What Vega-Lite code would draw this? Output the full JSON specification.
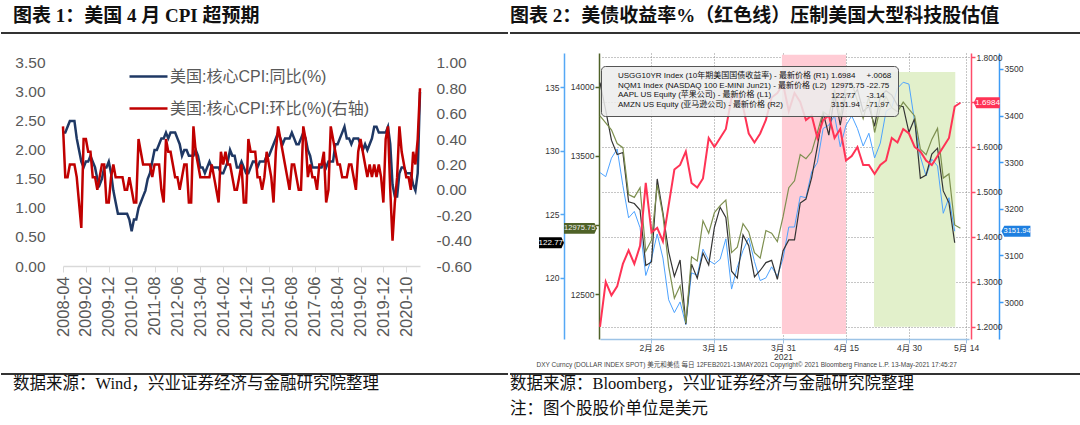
{
"$schema": "https://vega.github.io/schema/vega-lite/v6.json",
"background": "white",
"padding": {"top": 7, "left": 0, "right": 0, "bottom": 0},
"config": {"view": {"stroke": null}, "font": "Liberation Sans, Noto Sans CJK SC", "axis": {"labelFont": "Liberation Sans, Noto Sans CJK SC"}, "legend": {"labelFont": "Liberation Sans, Noto Sans CJK SC"}},
"spacing": 19,
"columns": 1,
"concat": [
{"spacing": 0, "hconcat": [
 {"width": 445, "height": 1,
  "title": {"text": "图表 1：美国 4 月 CPI 超预期", "anchor": "start", "frame": "group", "dx": -50, "font": "Liberation Serif, Noto Sans CJK SC", "fontSize": 19, "fontWeight": "bold", "color": "#111", "offset": 6},
  "data": {"values": [{"v": 0}]}, "mark": {"type": "rule", "color": "#333", "strokeWidth": 2, "clip": false},
  "encoding": {"x": {"datum": -0.1393, "type": "quantitative", "scale": {"domain": [0, 1]}, "axis": null}, "x2": {"datum": 1}, "y": {"datum": 0, "type": "quantitative", "scale": {"domain": [0, 1]}, "axis": null}}},
 {"width": 573, "height": 1,
  "title": {"text": "图表 2：美债收益率%（红色线）压制美国大型科技股估值", "anchor": "start", "frame": "group", "dx": 0, "font": "Liberation Serif, Noto Sans CJK SC", "fontSize": 19, "fontWeight": "bold", "color": "#111", "offset": 6},
  "data": {"values": [{"v": 0}]}, "mark": {"type": "rule", "color": "#333", "strokeWidth": 2, "clip": false},
  "encoding": {"x": {"datum": 0, "type": "quantitative", "scale": {"domain": [0, 1]}, "axis": null}, "x2": {"datum": 1}, "y": {"datum": 0, "type": "quantitative", "scale": {"domain": [0, 1]}, "axis": null}}}
]},
{"spacing": 5, "columns": 1, "concat": [
{"spacing": 64,
 "resolve": {"scale": {"color": "independent"}, "legend": {"color": "independent"}},
 "hconcat": [
 {"width": 357, "height": 213,
  "data": {"values": [
{"m":"2008-04","yoy":2.3,"mom":0.5},{"m":"2008-05","yoy":2.3,"mom":0.1},{"m":"2008-06","yoy":2.4,"mom":0.1},{"m":"2008-07","yoy":2.5,"mom":0.2},{"m":"2008-08","yoy":2.5,"mom":0.2},{"m":"2008-09","yoy":2.5,"mom":0.2},{"m":"2008-10","yoy":2.2,"mom":0.1},{"m":"2008-11","yoy":2.0,"mom":-0.1},{"m":"2008-12","yoy":1.8,"mom":-0.3},
{"m":"2009-01","yoy":1.7,"mom":0.4},{"m":"2009-02","yoy":1.8,"mom":0.4},{"m":"2009-03","yoy":1.8,"mom":0.3},{"m":"2009-04","yoy":1.9,"mom":0.3},{"m":"2009-05","yoy":1.8,"mom":0.1},{"m":"2009-06","yoy":1.7,"mom":0.1},{"m":"2009-07","yoy":1.5,"mom":0.0},{"m":"2009-08","yoy":1.4,"mom":0.1},{"m":"2009-09","yoy":1.5,"mom":0.2},{"m":"2009-10","yoy":1.7,"mom":0.2},{"m":"2009-11","yoy":1.7,"mom":-0.1},{"m":"2009-12","yoy":1.8,"mom":-0.1},
{"m":"2010-01","yoy":1.6,"mom":0.1},{"m":"2010-02","yoy":1.3,"mom":0.2},{"m":"2010-03","yoy":1.1,"mom":0.1},{"m":"2010-04","yoy":0.9,"mom":0.1},{"m":"2010-05","yoy":0.9,"mom":0.1},{"m":"2010-06","yoy":0.9,"mom":0.1},{"m":"2010-07","yoy":0.9,"mom":0.0},{"m":"2010-08","yoy":0.9,"mom":0.0},{"m":"2010-09","yoy":0.8,"mom":0.1},{"m":"2010-10","yoy":0.6,"mom":0.0},{"m":"2010-11","yoy":0.8,"mom":-0.1},{"m":"2010-12","yoy":0.8,"mom":-0.1},
{"m":"2011-01","yoy":1.0,"mom":0.4},{"m":"2011-02","yoy":1.1,"mom":0.3},{"m":"2011-03","yoy":1.2,"mom":0.2},{"m":"2011-04","yoy":1.3,"mom":0.2},{"m":"2011-05","yoy":1.5,"mom":0.2},{"m":"2011-06","yoy":1.6,"mom":0.2},{"m":"2011-07","yoy":1.8,"mom":0.1},{"m":"2011-08","yoy":2.0,"mom":0.2},{"m":"2011-09","yoy":2.0,"mom":0.2},{"m":"2011-10","yoy":2.1,"mom":0.2},{"m":"2011-11","yoy":2.2,"mom":0.0},{"m":"2011-12","yoy":2.2,"mom":-0.1},
{"m":"2012-01","yoy":2.3,"mom":0.4},{"m":"2012-02","yoy":2.2,"mom":0.3},{"m":"2012-03","yoy":2.3,"mom":0.3},{"m":"2012-04","yoy":2.3,"mom":0.2},{"m":"2012-05","yoy":2.3,"mom":0.1},{"m":"2012-06","yoy":2.2,"mom":0.1},{"m":"2012-07","yoy":2.1,"mom":0.0},{"m":"2012-08","yoy":1.9,"mom":0.1},{"m":"2012-09","yoy":2.0,"mom":0.2},{"m":"2012-10","yoy":2.0,"mom":0.2},{"m":"2012-11","yoy":1.9,"mom":-0.1},{"m":"2012-12","yoy":1.9,"mom":-0.1},
{"m":"2013-01","yoy":1.9,"mom":0.5},{"m":"2013-02","yoy":2.0,"mom":0.3},{"m":"2013-03","yoy":1.9,"mom":0.2},{"m":"2013-04","yoy":1.7,"mom":0.1},{"m":"2013-05","yoy":1.7,"mom":0.1},{"m":"2013-06","yoy":1.6,"mom":0.1},{"m":"2013-07","yoy":1.7,"mom":0.1},{"m":"2013-08","yoy":1.8,"mom":0.1},{"m":"2013-09","yoy":1.7,"mom":0.2},{"m":"2013-10","yoy":1.7,"mom":0.1},{"m":"2013-11","yoy":1.7,"mom":0.0},{"m":"2013-12","yoy":1.7,"mom":-0.1},
{"m":"2014-01","yoy":1.6,"mom":0.3},{"m":"2014-02","yoy":1.6,"mom":0.2},{"m":"2014-03","yoy":1.7,"mom":0.3},{"m":"2014-04","yoy":1.8,"mom":0.2},{"m":"2014-05","yoy":2.0,"mom":0.2},{"m":"2014-06","yoy":1.9,"mom":0.1},{"m":"2014-07","yoy":1.9,"mom":0.0},{"m":"2014-08","yoy":1.7,"mom":0.0},{"m":"2014-09","yoy":1.7,"mom":0.1},{"m":"2014-10","yoy":1.8,"mom":0.2},{"m":"2014-11","yoy":1.7,"mom":-0.1},{"m":"2014-12","yoy":1.6,"mom":-0.1},
{"m":"2015-01","yoy":1.6,"mom":0.4},{"m":"2015-02","yoy":1.7,"mom":0.3},{"m":"2015-03","yoy":1.8,"mom":0.3},{"m":"2015-04","yoy":1.8,"mom":0.3},{"m":"2015-05","yoy":1.7,"mom":0.1},{"m":"2015-06","yoy":1.8,"mom":0.1},{"m":"2015-07","yoy":1.8,"mom":0.0},{"m":"2015-08","yoy":1.8,"mom":0.1},{"m":"2015-09","yoy":1.9,"mom":0.3},{"m":"2015-10","yoy":1.9,"mom":0.2},{"m":"2015-11","yoy":2.0,"mom":0.1},{"m":"2015-12","yoy":2.1,"mom":-0.1},
{"m":"2016-01","yoy":2.2,"mom":0.3},{"m":"2016-02","yoy":2.3,"mom":0.5},{"m":"2016-03","yoy":2.2,"mom":0.4},{"m":"2016-04","yoy":2.1,"mom":0.3},{"m":"2016-05","yoy":2.2,"mom":0.2},{"m":"2016-06","yoy":2.2,"mom":0.1},{"m":"2016-07","yoy":2.2,"mom":0.0},{"m":"2016-08","yoy":2.3,"mom":0.2},{"m":"2016-09","yoy":2.2,"mom":0.2},{"m":"2016-10","yoy":2.1,"mom":0.1},{"m":"2016-11","yoy":2.1,"mom":0.0},{"m":"2016-12","yoy":2.2,"mom":0.0},
{"m":"2017-01","yoy":2.3,"mom":0.5},{"m":"2017-02","yoy":2.2,"mom":0.4},{"m":"2017-03","yoy":2.0,"mom":0.1},{"m":"2017-04","yoy":1.9,"mom":0.2},{"m":"2017-05","yoy":1.7,"mom":0.1},{"m":"2017-06","yoy":1.7,"mom":0.1},{"m":"2017-07","yoy":1.7,"mom":0.0},{"m":"2017-08","yoy":1.7,"mom":0.2},{"m":"2017-09","yoy":1.7,"mom":0.2},{"m":"2017-10","yoy":1.8,"mom":0.3},{"m":"2017-11","yoy":1.7,"mom":-0.1},{"m":"2017-12","yoy":1.8,"mom":0.0},
{"m":"2018-01","yoy":1.8,"mom":0.5},{"m":"2018-02","yoy":1.8,"mom":0.4},{"m":"2018-03","yoy":2.1,"mom":0.3},{"m":"2018-04","yoy":2.1,"mom":0.2},{"m":"2018-05","yoy":2.2,"mom":0.2},{"m":"2018-06","yoy":2.3,"mom":0.1},{"m":"2018-07","yoy":2.4,"mom":0.1},{"m":"2018-08","yoy":2.2,"mom":0.1},{"m":"2018-09","yoy":2.2,"mom":0.2},{"m":"2018-10","yoy":2.1,"mom":0.2},{"m":"2018-11","yoy":2.2,"mom":0.1},{"m":"2018-12","yoy":2.2,"mom":0.0},
{"m":"2019-01","yoy":2.2,"mom":0.3},{"m":"2019-02","yoy":2.1,"mom":0.4},{"m":"2019-03","yoy":2.0,"mom":0.3},{"m":"2019-04","yoy":2.1,"mom":0.2},{"m":"2019-05","yoy":2.0,"mom":0.1},{"m":"2019-06","yoy":2.1,"mom":0.2},{"m":"2019-07","yoy":2.2,"mom":0.1},{"m":"2019-08","yoy":2.4,"mom":0.2},{"m":"2019-09","yoy":2.4,"mom":0.1},{"m":"2019-10","yoy":2.3,"mom":0.2},{"m":"2019-11","yoy":2.3,"mom":0.1},{"m":"2019-12","yoy":2.3,"mom":-0.1},
{"m":"2020-01","yoy":2.3,"mom":0.4},{"m":"2020-02","yoy":2.4,"mom":0.5},{"m":"2020-03","yoy":2.1,"mom":0.0},{"m":"2020-04","yoy":1.4,"mom":-0.4},{"m":"2020-05","yoy":1.2,"mom":-0.1},{"m":"2020-06","yoy":1.2,"mom":0.1},{"m":"2020-07","yoy":1.6,"mom":0.5},{"m":"2020-08","yoy":1.7,"mom":0.3},{"m":"2020-09","yoy":1.7,"mom":0.2},{"m":"2020-10","yoy":1.6,"mom":0.1},{"m":"2020-11","yoy":1.6,"mom":0.1},{"m":"2020-12","yoy":1.6,"mom":0.0},
{"m":"2021-01","yoy":1.4,"mom":0.3},{"m":"2021-02","yoy":1.3,"mom":0.2},{"m":"2021-03","yoy":1.6,"mom":0.4},{"m":"2021-04","yoy":3.0,"mom":0.8}
  ]},
  "layer": [
   {"mark": {"type": "line", "strokeWidth": 2.5},
    "encoding": {
     "x": {"field": "m", "type": "ordinal", "scale": {"type": "point", "padding": 0},
       "axis": {"values": ["2008-04","2009-02","2009-12","2010-10","2011-08","2012-06","2013-04","2014-02","2014-12","2015-10","2016-08","2017-06","2018-04","2019-02","2019-12","2020-10"], "labelAngle": -90, "labelFontSize": 16.5, "labelColor": "#595959", "domainColor": "#D9D9D9", "domainWidth": 1.5, "tickColor": "#D9D9D9", "tickSize": 6, "labelPadding": 4, "title": null, "grid": false}},
     "y": {"field": "yoy", "type": "quantitative", "scale": {"domain": [0, 3.672], "nice": false, "zero": false},
       "axis": {"orient": "left", "values": [0,0.5,1,1.5,2,2.5,3,3.5], "format": ".2f", "labelFontSize": 15.5, "labelColor": "#595959", "domain": false, "ticks": false, "grid": false, "labelPadding": 18, "title": "|", "titleOpacity": 0, "titleFontSize": 2, "titlePadding": 11}},
     "color": {"datum": "美国:核心CPI:同比(%)", "type": "nominal",
       "scale": {"domain": ["美国:核心CPI:同比(%)", "美国:核心CPI:环比(%)(右轴)"], "range": ["#1F3864", "#C00000"]},
       "legend": {"orient": "none", "legendX": 65, "legendY": 3, "title": null, "symbolType": "stroke", "symbolStrokeWidth": 2.5, "symbolSize": 1444, "labelFontSize": 16, "labelColor": "#595959", "rowPadding": 3, "labelOffset": 1, "padding": 0, "labelLimit": 400}}
    }},
   {"mark": {"type": "line", "strokeWidth": 2.5},
    "encoding": {
     "x": {"field": "m", "type": "ordinal"},
     "y": {"field": "mom", "type": "quantitative", "scale": {"domain": [-0.6, 1.078], "nice": false, "zero": false},
       "axis": {"orient": "right", "values": [-0.6,-0.4,-0.2,0,0.2,0.4,0.6,0.8,1.0], "labelExpr": "replace(format(datum.value, '.2f'), '\u2212', '-')", "labelFontSize": 15.5, "labelColor": "#595959", "domain": false, "ticks": false, "grid": false, "labelPadding": 16, "title": null}},
     "color": {"datum": "美国:核心CPI:环比(%)(右轴)", "type": "nominal"}
    }}
  ],
  "resolve": {"scale": {"y": "independent"}}
 },
 {"width": 369, "height": 286,
  "data": {"values": [
{"i":0,"y10":1.20,"nq":13790,"aapl":135.37,"amzn":3277.71},{"i":1,"y10":1.30,"nq":13740,"aapl":133.19,"amzn":3268.95},{"i":2,"y10":1.27,"nq":13690,"aapl":130.84,"amzn":3308.64},{"i":3,"y10":1.29,"nq":13590,"aapl":129.71,"amzn":3328.23},{"i":4,"y10":1.34,"nq":13560,"aapl":129.87,"amzn":3249.90},{"i":5,"y10":1.37,"nq":13220,"aapl":126.00,"amzn":3180.74},{"i":6,"y10":1.34,"nq":13200,"aapl":125.86,"amzn":3194.50},{"i":7,"y10":1.38,"nq":13270,"aapl":125.35,"amzn":3159.53},{"i":8,"y10":1.52,"nq":12810,"aapl":120.99,"amzn":3057.16},{"i":9,"y10":1.41,"nq":12890,"aapl":121.26,"amzn":3092.93},
{"i":10,"y10":1.42,"nq":13290,"aapl":127.79,"amzn":3146.14},{"i":11,"y10":1.39,"nq":13070,"aapl":125.12,"amzn":3094.53},{"i":12,"y10":1.47,"nq":12700,"aapl":122.06,"amzn":3005.00},{"i":13,"y10":1.55,"nq":12470,"aapl":120.13,"amzn":2977.57},{"i":14,"y10":1.56,"nq":12560,"aapl":121.42,"amzn":3000.46},{"i":15,"y10":1.59,"nq":12290,"aapl":116.36,"amzn":2951.95},{"i":16,"y10":1.52,"nq":12770,"aapl":121.09,"amzn":3062.85},{"i":17,"y10":1.51,"nq":12740,"aapl":119.98,"amzn":3057.64},{"i":18,"y10":1.53,"nq":13030,"aapl":121.96,"amzn":3113.59},{"i":19,"y10":1.62,"nq":12940,"aapl":121.03,"amzn":3089.49},
{"i":20,"y10":1.60,"nq":13090,"aapl":123.99,"amzn":3081.68},{"i":21,"y10":1.62,"nq":13140,"aapl":125.57,"amzn":3091.86},{"i":22,"y10":1.64,"nq":13180,"aapl":124.76,"amzn":3135.73},{"i":23,"y10":1.71,"nq":12800,"aapl":120.53,"amzn":3027.99},{"i":24,"y10":1.72,"nq":12840,"aapl":119.99,"amzn":3074.96},{"i":25,"y10":1.69,"nq":13010,"aapl":123.39,"amzn":3110.87},{"i":26,"y10":1.63,"nq":12950,"aapl":122.54,"amzn":3137.50},{"i":27,"y10":1.61,"nq":12800,"aapl":120.09,"amzn":3087.07},{"i":28,"y10":1.63,"nq":12760,"aapl":120.59,"amzn":3046.26},{"i":29,"y10":1.66,"nq":12960,"aapl":121.21,"amzn":3052.03},
{"i":30,"y10":1.71,"nq":12940,"aapl":121.39,"amzn":3075.73},{"i":31,"y10":1.72,"nq":12880,"aapl":119.90,"amzn":3055.29},{"i":32,"y10":1.74,"nq":13060,"aapl":122.15,"amzn":3094.08},{"i":33,"y10":1.68,"nq":13270,"aapl":123.00,"amzn":3161.00},{"i":34,"y10":1.72,"nq":13320,"aapl":123.00,"amzn":3161.00},{"i":35,"y10":1.70,"nq":13510,"aapl":125.90,"amzn":3226.73},{"i":36,"y10":1.66,"nq":13480,"aapl":126.21,"amzn":3223.82},{"i":37,"y10":1.67,"nq":13530,"aapl":127.90,"amzn":3279.39},{"i":38,"y10":1.62,"nq":13670,"aapl":130.36,"amzn":3299.30},{"i":39,"y10":1.66,"nq":13820,"aapl":133.00,"amzn":3372.20},
{"i":40,"y10":1.67,"nq":13790,"aapl":131.24,"amzn":3379.39},{"i":41,"y10":1.62,"nq":13980,"aapl":134.43,"amzn":3400.00},{"i":42,"y10":1.64,"nq":13780,"aapl":132.03,"amzn":3333.00},{"i":43,"y10":1.57,"nq":14020,"aapl":134.50,"amzn":3379.09},{"i":44,"y10":1.58,"nq":14030,"aapl":134.16,"amzn":3399.44},{"i":45,"y10":1.60,"nq":13900,"aapl":134.84,"amzn":3372.01},{"i":46,"y10":1.56,"nq":13770,"aapl":133.11,"amzn":3334.69},{"i":47,"y10":1.56,"nq":13930,"aapl":133.50,"amzn":3362.02},{"i":48,"y10":1.54,"nq":13670,"aapl":131.94,"amzn":3309.04},{"i":49,"y10":1.56,"nq":13850,"aapl":134.32,"amzn":3340.88},
{"i":50,"y10":1.57,"nq":13930,"aapl":134.72,"amzn":3409.00},{"i":51,"y10":1.62,"nq":13850,"aapl":134.39,"amzn":3417.43},{"i":52,"y10":1.61,"nq":13820,"aapl":133.58,"amzn":3458.50},{"i":53,"y10":1.64,"nq":13890,"aapl":133.48,"amzn":3471.31},{"i":54,"y10":1.63,"nq":13840,"aapl":131.46,"amzn":3467.42},{"i":55,"y10":1.60,"nq":13790,"aapl":132.54,"amzn":3386.49},{"i":56,"y10":1.59,"nq":13550,"aapl":127.85,"amzn":3311.87},{"i":57,"y10":1.57,"nq":13510,"aapl":128.10,"amzn":3270.54},{"i":58,"y10":1.56,"nq":13620,"aapl":129.74,"amzn":3306.37},{"i":59,"y10":1.58,"nq":13700,"aapl":130.21,"amzn":3291.61},
{"i":60,"y10":1.60,"nq":13340,"aapl":126.85,"amzn":3190.49},{"i":61,"y10":1.62,"nq":13370,"aapl":125.91,"amzn":3223.91},{"i":62,"y10":1.69,"nq":13000,"aapl":122.77,"amzn":3151.94},{"i":63,"y10":1.6984,"nq":12975.75,"aapl":null,"amzn":null}
  ]},
  "layer": [
   {"layer": [
     {"data": {"values": [{"start": 31.8, "end": 43.0, "top": 1.805, "bottom": 1.184}]},
      "mark": {"type": "rect", "color": "#FFCCD5"},
      "encoding": {
       "x": {"field": "start", "type": "quantitative", "scale": {"domain": [0, 64.5], "nice": false, "zero": false},
         "axis": {"values": [9,20,32,43,54,64], "labelExpr": "datum.value == 9 ? '2月 26' : datum.value == 20 ? '3月 15' : datum.value == 32 ? ['3月 31', '2021'] : datum.value == 43 ? '4月 15' : datum.value == 54 ? '4月 30' : '5月 14'", "labelFontSize": 8.5, "labelColor": "#333", "labelLineHeight": 9.5, "labelPadding": 0, "domainColor": "#9DC3E6", "domainWidth": 1.5, "tickColor": "#9DC3E6", "tickSize": 4, "grid": true, "gridColor": "#8C8C8C", "gridDash": [1, 2], "labelOverlap": false,
           "title": "DXY Curncy (DOLLAR INDEX SPOT) 美元和美债    每日 12FEB2021-13MAY2021            Copyright© 2021 Bloomberg Finance L.P.            13-May-2021 17:45:27", "titleFontSize": 6.5, "titleFontWeight": "normal", "titleColor": "#444", "titleAnchor": "start", "titleAlign": "left", "titleX": -64, "titleY": 22}},
       "x2": {"field": "end"},
       "y": {"field": "top", "type": "quantitative", "scale": {"domain": [1.173, 1.809], "nice": false, "zero": false}, "axis": null},
       "y2": {"field": "bottom"}}},
     {"data": {"values": [{"start": 47.9, "end": 62.1, "top": 1.767, "bottom": 1.2}]},
      "mark": {"type": "rect", "color": "#E2F0CB"},
      "encoding": {"x": {"field": "start", "type": "quantitative"}, "x2": {"field": "end"}, "y": {"field": "top", "type": "quantitative"}, "y2": {"field": "bottom"}}}
   ]},
   {"layer": [
     {"mark": {"type": "line", "strokeWidth": 1},
      "encoding": {
       "x": {"field": "i", "type": "quantitative"},
       "y": {"field": "amzn", "type": "quantitative", "scale": {"domain": [2921, 3534], "nice": false, "zero": false},
         "axis": {"orient": "right", "offset": 30, "values": [3000,3100,3200,3300,3400,3500], "format": "d", "domainColor": "#3D9BF5", "domainWidth": 1.5, "tickColor": "#3D9BF5", "tickSize": 4, "tickWidth": 1.5, "labelColor": "#333", "labelFontSize": 8.5, "labelPadding": 1, "grid": false, "title": null}},
       "color": {"datum": "AMZN US Equity (亚马逊公司) - 最新价格 (R2)", "type": "nominal",
         "scale": {"domain": ["USGG10YR Index (10年期美国国债收益率) - 最新价格 (R1)", "NQM1 Index (NASDAQ 100 E-MINI Jun21) - 最新价格 (L2)", "AAPL US Equity (苹果公司) - 最新价格 (L1)", "AMZN US Equity (亚马逊公司) - 最新价格 (R2)"], "range": ["#FF3355", "#7D8F4F", "#333333", "#4DA3FF"]},
         "legend": {"orient": "none", "legendX": 1, "legendY": 13, "symbolType": "square", "symbolSize": 49, "symbolStrokeWidth": 0, "labelFontSize": 8, "labelColor": "#111", "rowPadding": 1.5, "padding": 6, "labelOffset": 3, "fillColor": "rgba(236,236,236,0.85)", "strokeColor": "#555", "cornerRadius": 4, "labelLimit": 500,
           "title": ["1.6984\u00a0\u00a0\u00a0\u00a0\u00a0+.0068", "12975.75\u00a0-22.75", "122.77\u00a0\u00a0\u00a0\u00a0\u00a0-3.14", "3151.94\u00a0\u00a0\u00a0-71.97"], "titleOrient": "right", "titleAnchor": "start", "titleBaseline": "top", "titleFont": "Liberation Sans", "titleFontSize": 8, "titleFontWeight": "normal", "titleColor": "#111", "titleLineHeight": 9.8, "titlePadding": 2}}
      }},
     {"data": {"values": [{"last": 3151.94}]},
      "mark": {"type": "point", "shape": "M-1,0L-0.8,-0.38L1,-0.38L1,0.38L-0.8,0.38Z", "filled": true, "opacity": 1, "size": 841, "color": "#1E7FE0", "strokeWidth": 0},
      "encoding": {"x": {"datum": 72.7}, "y": {"field": "last", "type": "quantitative"}}},
     {"data": {"values": [{"last": 3151.94}]},
      "mark": {"type": "text", "color": "white", "fontSize": 7.5, "align": "center", "baseline": "middle"},
      "encoding": {"x": {"datum": 72.9}, "y": {"field": "last", "type": "quantitative"}, "text": {"field": "last", "type": "quantitative", "format": ".2f"}}}
   ]},
   {"layer": [
     {"mark": {"type": "line", "strokeWidth": 1.2},
      "encoding": {
       "x": {"field": "i", "type": "quantitative"},
       "y": {"field": "aapl", "type": "quantitative", "scale": {"domain": [115.2, 137.7], "nice": false, "zero": false},
         "axis": {"orient": "left", "offset": 36, "values": [120,125,130,135], "format": "d", "domainColor": "#55A8F5", "domainWidth": 1.5, "tickColor": "#55A8F5", "tickSize": 4, "tickWidth": 1.5, "labelColor": "#333", "labelFontSize": 8.5, "labelPadding": 1, "grid": false, "title": null}},
       "color": {"datum": "AAPL US Equity (苹果公司) - 最新价格 (L1)", "type": "nominal"}
      }},
     {"data": {"values": [{"last": 122.77}]},
      "mark": {"type": "point", "shape": "M-1,-0.44L0.8,-0.44L1,0L0.8,0.44L-1,0.44Z", "filled": true, "opacity": 1, "size": 625, "color": "#000000", "strokeWidth": 0},
      "encoding": {"x": {"datum": -8.48}, "y": {"field": "last", "type": "quantitative"}}},
     {"data": {"values": [{"last": 122.77}]},
      "mark": {"type": "text", "color": "white", "fontSize": 8, "align": "center", "baseline": "middle"},
      "encoding": {"x": {"datum": -8.6}, "y": {"field": "last", "type": "quantitative"}, "text": {"field": "last", "type": "quantitative", "format": ".2f"}}}
   ]},
   {"layer": [
     {"mark": {"type": "line", "strokeWidth": 1.2},
      "encoding": {
       "x": {"field": "i", "type": "quantitative"},
       "y": {"field": "nq", "type": "quantitative", "scale": {"domain": [12174, 14246], "nice": false, "zero": false},
         "axis": {"orient": "left", "offset": 1, "values": [12500,13000,13500,14000], "labelExpr": "datum.value == 13000 ? '' : format(datum.value, 'd')", "domainColor": "#4F6228", "domainWidth": 1.5, "tickColor": "#4F6228", "tickSize": 4, "tickWidth": 1.5, "labelColor": "#333", "labelFontSize": 8.5, "labelPadding": 1, "grid": false, "title": null}},
       "color": {"datum": "NQM1 Index (NASDAQ 100 E-MINI Jun21) - 最新价格 (L2)", "type": "nominal"}
      }},
     {"data": {"values": [{"last": 12975.75}]},
      "mark": {"type": "point", "shape": "M-1,-0.33L0.85,-0.33L1,0L0.85,0.33L-1,0.33Z", "filled": true, "opacity": 1, "size": 1089, "color": "#4F6228", "strokeWidth": 0},
      "encoding": {"x": {"datum": -3.41}, "y": {"field": "last", "type": "quantitative"}}},
     {"data": {"values": [{"last": 12975.75}]},
      "mark": {"type": "text", "color": "#EEEEEE", "fontSize": 7.5, "align": "center", "baseline": "middle"},
      "encoding": {"x": {"datum": -3.55}, "y": {"field": "last", "type": "quantitative"}, "text": {"field": "last", "type": "quantitative", "format": ".2f"}}}
   ]},
   {"layer": [
     {"mark": {"type": "line", "strokeWidth": 2},
      "encoding": {
       "x": {"field": "i", "type": "quantitative"},
       "y": {"field": "y10", "type": "quantitative", "scale": {"domain": [1.173, 1.809], "nice": false, "zero": false},
         "axis": {"orient": "right", "offset": 2, "values": [1.2,1.3,1.4,1.5,1.6,1.7,1.8], "labelExpr": "datum.value == 1.7 ? '' : format(datum.value, '.4f')", "domainColor": "#FF4D6A", "domainWidth": 1.5, "tickColor": "#FF4D6A", "tickSize": 4, "tickWidth": 1.5, "labelColor": "#333", "labelFontSize": 8.5, "labelPadding": 1, "grid": true, "gridColor": "#8C8C8C", "gridDash": [1, 2], "title": null}},
       "color": {"datum": "USGG10YR Index (10年期美国国债收益率) - 最新价格 (R1)", "type": "nominal"}
      }},
     {"data": {"values": [{"last": 1.6984}]},
      "mark": {"type": "point", "shape": "M-1,0L-0.8,-0.42L1,-0.42L1,0.42L-0.8,0.42Z", "filled": true, "opacity": 1, "size": 676, "color": "#FF3355", "strokeWidth": 0},
      "encoding": {"x": {"datum": 67.6}, "y": {"field": "last", "type": "quantitative"}}},
     {"data": {"values": [{"last": 1.6984}]},
      "mark": {"type": "text", "color": "white", "fontSize": 8, "align": "center", "baseline": "middle"},
      "encoding": {"x": {"datum": 67.75}, "y": {"field": "last", "type": "quantitative"}, "text": {"field": "last", "type": "quantitative", "format": ".4f"}}}
   ]}
  ],
  "resolve": {"scale": {"y": "independent"}}
 }
]},
{"spacing": 0, "hconcat": [
 {"width": 445, "height": 1,
  "title": {"text": "数据来源：Wind，兴业证券经济与金融研究院整理", "orient": "bottom", "anchor": "start", "frame": "group", "dx": -50, "font": "Liberation Serif, Noto Sans CJK SC", "fontSize": 16.5, "fontWeight": "normal", "color": "#111", "offset": 1},
  "data": {"values": [{"v": 0}]}, "mark": {"type": "rule", "color": "#333", "strokeWidth": 2, "clip": false},
  "encoding": {"x": {"datum": -0.1393, "type": "quantitative", "scale": {"domain": [0, 1]}, "axis": null}, "x2": {"datum": 1}, "y": {"datum": 1, "type": "quantitative", "scale": {"domain": [0, 1]}, "axis": null}}},
 {"width": 573, "height": 1,
  "title": {"text": ["数据来源：Bloomberg，兴业证券经济与金融研究院整理", "注：图个股股价单位是美元"], "orient": "bottom", "anchor": "start", "frame": "group", "dx": 0, "font": "Liberation Serif, Noto Sans CJK SC", "fontSize": 16.5, "lineHeight": 25, "fontWeight": "normal", "color": "#111", "offset": 1},
  "data": {"values": [{"v": 0}]}, "mark": {"type": "rule", "color": "#333", "strokeWidth": 2, "clip": false},
  "encoding": {"x": {"datum": 0, "type": "quantitative", "scale": {"domain": [0, 1]}, "axis": null}, "x2": {"datum": 1}, "y": {"datum": 1, "type": "quantitative", "scale": {"domain": [0, 1]}, "axis": null}}}
]}
]}
]
}
